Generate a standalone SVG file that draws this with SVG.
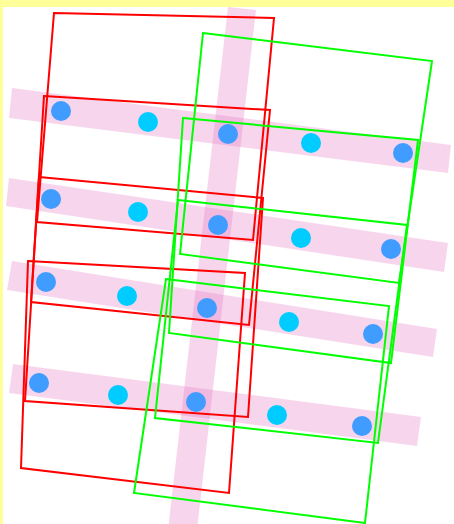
<svg xmlns="http://www.w3.org/2000/svg" width="454" height="524" viewBox="0 0 454 524">
<style>
.band{fill:#e377c2;fill-opacity:0.3;stroke:none}
.b{fill:#409cff}
.c{fill:#00ccff}
.red{fill:none;stroke:#ff0000;stroke-width:2}
.green{fill:none;stroke:#00ff00;stroke-width:2}
</style>
<rect x="0" y="0" width="454" height="524" fill="#ffff99"/>
<rect x="3" y="7" width="460" height="530" fill="#ffffff"/>
<g id="bands">
<polygon class="band" points="12,88 451,145 448,173 9,118"/>
<polygon class="band" points="9,178 448,243 444,272 6,206"/>
<polygon class="band" points="12,261 437,329 433,357 7,290"/>
<polygon class="band" points="13,364 421,417 417,446 9,393"/>
<polygon class="band" points="228,7 256,10 197,530 168,530"/>
</g>
<g id="dots">
<circle class="b" cx="61" cy="111" r="10"/>
<circle class="c" cx="148" cy="122" r="10"/>
<circle class="b" cx="228" cy="134" r="10"/>
<circle class="c" cx="311" cy="143" r="10"/>
<circle class="b" cx="403" cy="153" r="10"/>
<circle class="b" cx="51" cy="199" r="10"/>
<circle class="c" cx="138" cy="212" r="10"/>
<circle class="b" cx="218" cy="225" r="10"/>
<circle class="c" cx="301" cy="238" r="10"/>
<circle class="b" cx="391" cy="249" r="10"/>
<circle class="b" cx="46" cy="282" r="10"/>
<circle class="c" cx="127" cy="296" r="10"/>
<circle class="b" cx="207" cy="308" r="10"/>
<circle class="c" cx="289" cy="322" r="10"/>
<circle class="b" cx="373" cy="334" r="10"/>
<circle class="b" cx="39" cy="383" r="10"/>
<circle class="c" cx="118" cy="395" r="10"/>
<circle class="b" cx="196" cy="402" r="10"/>
<circle class="c" cx="277" cy="415" r="10"/>
<circle class="b" cx="362" cy="426" r="10"/>
</g>
<g id="red-frames">
<polygon id="r1" class="red" points="54,13 274,18 253,240 37,222"/>
<polygon id="r2" class="red" points="44,96 270,110 249,325 31,302"/>
<polygon id="r3" class="red" points="39,177 263,198 248,417 25,401"/>
<polygon id="r4" class="red" points="28,261 245,273 229,493 21,468"/>
</g>
<g id="green-frames">
<polygon id="g1" class="green" points="203,33 432,61 399,283 180,254"/>
<polygon id="g2" class="green" points="183,118 418,140 391,363 169,333"/>
<polygon id="g3" class="green" points="178,200 407,225 378,443 155,418"/>
<polygon id="g4" class="green" points="166,279 389,306 365,523 134,493"/>
</g>
</svg>
